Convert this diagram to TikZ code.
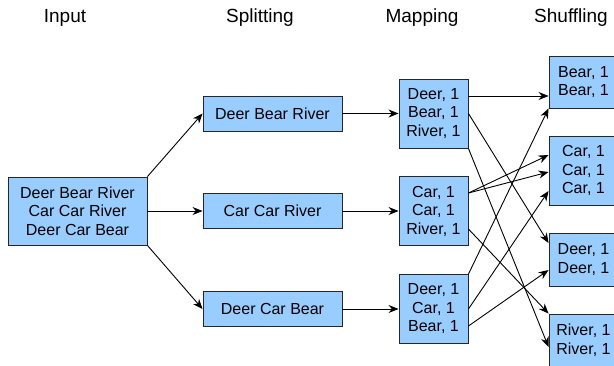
\documentclass[tikz,border=0pt]{standalone}
\usepackage{xcolor}
\usepackage{fontspec}
\setmainfont{Liberation Sans}
\usepackage{tikz}
\usetikzlibrary{arrows.meta, positioning}
\definecolor{boxblue}{HTML}{99CCFF}

\begin{document}
\begin{tikzpicture}[x=1pt, y=-1pt, node distance=150pt,
    box/.style={draw=black!85, fill=boxblue, line width=0.9pt, align=center, inner sep=0pt, font=\fontsize{16}{18.5}\selectfont},
    head/.style={anchor=base, font=\fontsize{19}{20}\selectfont},
    >={Stealth[length=10pt, width=8pt]}]
    \useasboundingbox (0,0) rectangle (614,365);

    % Headings
    \node (hin) [head] at (65,22) {Input};
    \node (hsplit) [head] at (260,22) {Splitting};
    \node (hmap) [head] at (422,22) {Mapping};
    \node (hshuf) [head] at (571,22) {Shuffling};

    % Nodes
    \node (input) [box, minimum width=139pt, minimum height=68pt] at (77.5,211) {Deer Bear River\\Car Car River\\Deer Car Bear};
    \node (split2) [box, right of=input, xshift=45pt, minimum width=139pt, minimum height=35pt] {Car Car River};
    \node (split1) [box, above of=split2, yshift=-52.5pt, minimum width=139pt, minimum height=35pt] {Deer Bear River};
    \node (split3) [box, below of=split2, yshift=52pt, minimum width=139pt, minimum height=35pt] {Deer Car Bear};

    \node (map1) [box, right of=split1, xshift=11pt, minimum width=69pt, minimum height=69pt] {Deer, 1\\Bear, 1\\River, 1};
    \node (map2) [box, right of=split2, xshift=11pt, minimum width=69pt, minimum height=69pt] {Car, 1\\Car, 1\\River, 1};
    \node (map3) [box, right of=split3, xshift=11pt, minimum width=69pt, minimum height=69pt] {Deer, 1\\Car, 1\\Bear, 1};

    \node (bear) [box, right of=map1, yshift=31.5pt, minimum width=69pt, minimum height=52pt] {Bear, 1\\Bear, 1};
    \node (car) [box, right of=map2, yshift=40.5pt, minimum width=69pt, minimum height=69pt] {Car, 1\\Car, 1\\Car, 1};
    \node (deer) [box, right of=map3, yshift=49.5pt, minimum width=69pt, minimum height=53pt] {Deer, 1\\Deer, 1};
    \node (river) [box, right of=map3, yshift=-31pt, minimum width=69pt, minimum height=52pt] {River, 1\\River, 1};

    % Arrows
    \draw[->, line width=0.9pt] (input.north east) -- (split1.west);
    \draw[->, line width=0.9pt] (input.east) -- (split2.west);
    \draw[->, line width=0.9pt] (input.south east) -- (split3.west);

    \draw[->, line width=0.9pt] (split1.east) -- (map1.west);
    \draw[->, line width=0.9pt] (split2.east) -- (map2.west);
    \draw[->, line width=0.9pt] (split3.east) -- (map3.west);

    \draw[->, line width=0.9pt] ([yshift=17.5pt]map1.east) -- ([yshift=-14pt]bear.west);
    \draw[->, line width=0.9pt] (map1.east) -- ([yshift=16.5pt]deer.west);
    \draw[->, line width=0.9pt] (map1.south east) -- ([yshift=-7pt]river.west);
    \draw[->, line width=0.9pt] ([yshift=18pt]map2.east) -- ([yshift=15.5pt]car.west);
    \draw[->, line width=0.9pt] ([yshift=18pt]map2.east) -- ([yshift=-1.5pt]car.west);
    \draw[->, line width=0.9pt] ([yshift=-18pt]map2.east) -- (river.north west);
    \draw[->, line width=0.9pt] (map3.north east) -- (bear.south west);
    \draw[->, line width=0.9pt] (map3.east) -- ([yshift=-20.5pt]car.west);
    \draw[->, line width=0.9pt] ([yshift=-17pt]map3.east) -- ([yshift=-10.5pt]deer.west);
\end{tikzpicture}
\end{document}
